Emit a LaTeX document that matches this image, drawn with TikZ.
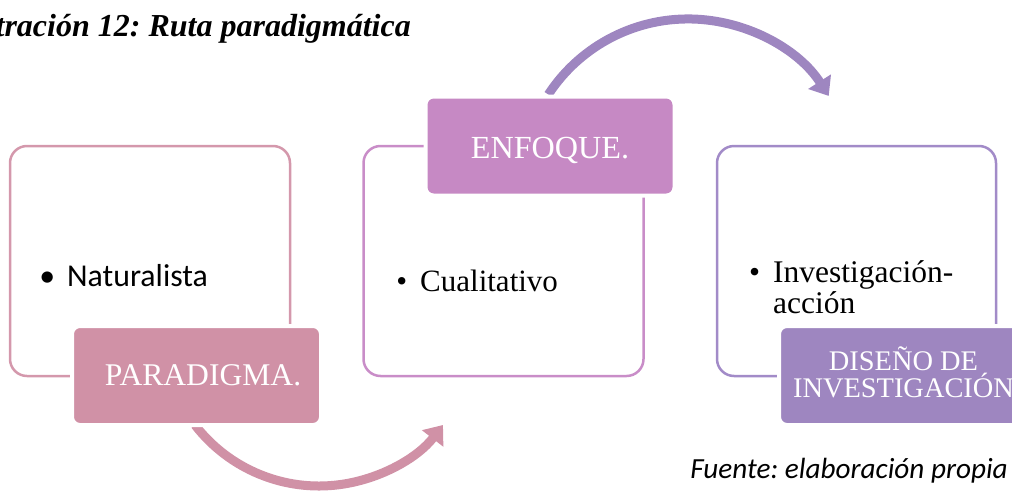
\documentclass[tikz,border=0pt]{standalone}
\usepackage{fontspec}
\setmainfont{Liberation Serif}
\newfontfamily\calib{Carlito}
\usetikzlibrary{arrows.meta}
\frenchspacing
\definecolor{pinkfill}{HTML}{D091A6}
\definecolor{pinkline}{HTML}{D498AC}
\definecolor{orchfill}{HTML}{C689C4}
\definecolor{orchline}{HTML}{C98DC8}
\definecolor{lavfill}{HTML}{9E86C0}
\definecolor{lavline}{HTML}{A28BC8}
\begin{document}
\begin{tikzpicture}[x=1pt,y=-1pt,
  outbox/.style={draw, line width=2.5pt, rounded corners=17pt, minimum width=280pt, minimum height=230pt, inner sep=0pt},
  labbox/.style={fill, draw=white, line width=4pt, rounded corners=8pt, minimum width=249pt, minimum height=99pt, inner sep=0pt},
  arc arrow/.style={line width=9pt, -{Triangle[width=26pt,length=17pt]}},
  bodyfont/.style={font=\fontsize{31pt}{31pt}\selectfont, inner sep=0pt},
  labtext/.style={text=white, inner sep=0pt, anchor=base}
]
\useasboundingbox (0,0) rectangle (1012,493);
% arcs
\coordinate (b1) at (195,425);
\coordinate (t1) at (548.3,94.5);
\draw[arc arrow, pinkfill] (b1) arc[start angle=142.4, end angle=37.6, radius=156.5];
\draw[arc arrow, lavfill] (t1) arc[start angle=213.2, end angle=327.4, radius=167];
% outline boxes
\node[outbox, draw=pinkline] (box1) at (150,261) {};
\node[outbox, draw=orchline] (box2) at (503.5,261) {};
\node[outbox, draw=lavline, minimum width=279pt] (box3) at (856.5,261) {};
% label boxes
\node[labbox, fill=pinkfill] (lab1) at (196.5,375.5) {};
\node[labbox, fill=orchfill] (lab2) at (550,146) {};
\node[labbox, fill=lavfill] (lab3) at (903.5,375.5) {};
% body texts
\node[bodyfont, font=\calib\fontsize{31.8pt}{31.8pt}\selectfont, anchor=base west] (nat) at (67,286.7) {\llap{•\hspace{12pt}}Naturalista};
\node[bodyfont, anchor=base west] (cual) at (420,291) {\llap{•\hspace{13pt}}Cualitativo};
\node[bodyfont, font=\fontsize{31.5pt}{31.5pt}\selectfont, anchor=base west] (inv1) at (773,282) {\llap{•\hspace{13pt}}Investigación-};
\node[bodyfont, font=\fontsize{31.5pt}{31.5pt}\selectfont, anchor=base west] (inv2) at (773,313) {acción};
% label texts
\node[labtext, font=\fontsize{31.6pt}{31.6pt}\selectfont] (partx) at (203,385) {PARADIGMA.};
\node[labtext, font=\fontsize{32.2pt}{32.2pt}\selectfont] (enftx) at (550,158) {ENFOQUE.};
\node[labtext, font=\fontsize{28.4pt}{28.4pt}\selectfont] (dis1) at (903.5,370) {DISEÑO DE};
\node[labtext, font=\fontsize{28.4pt}{28.4pt}\selectfont] (dis2) at (903.5,397) {INVESTIGACIÓN};
% title and source
\node[inner sep=0pt, anchor=base east, font=\bfseries\itshape\fontsize{32pt}{32pt}\selectfont] (title) at (411,36) {Ilustración 12: Ruta paradigmática};
\node[inner sep=0pt, anchor=base east, font=\calib\itshape\fontsize{29.2pt}{29.2pt}\selectfont] (src) at (1008,478) {Fuente: elaboración propia};
\end{tikzpicture}
\end{document}
